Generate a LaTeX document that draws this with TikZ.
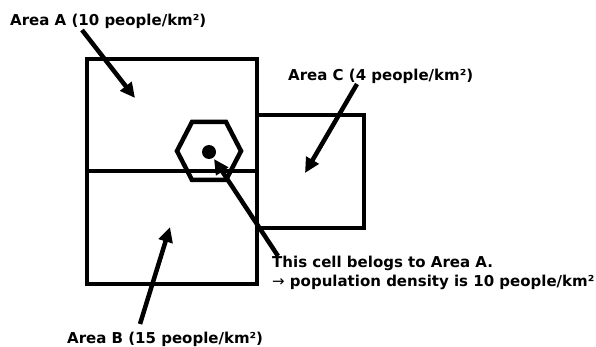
\documentclass[tikz,border=0pt]{standalone}
\usepackage{fontspec}
\setmainfont{DejaVu Sans}
\usepackage{tikz}
\usetikzlibrary{arrows.meta}

\begin{document}
\begin{tikzpicture}[x=1pt,y=-1pt,
  areaLabel/.style={anchor=base west,inner sep=0pt,font=\fontsize{15}{18}\selectfont\bfseries},
  borderLine/.style={line width=4.5pt},
  bigArrow/.style={line width=4.5pt,-{Triangle[length=15pt,width=14pt]}}]
\useasboundingbox (0,0) rectangle (596,347);
% regions
\draw[borderLine] (87,59) rectangle (257,284);
\draw[borderLine] (87,171)--(257,171);
\draw[borderLine] (257,115) rectangle (364,228);
% cell
\draw[borderLine,line join=miter] (177,151)--(192,122)--(226,122)--(241,151)--(226,180)--(192,180)--cycle;
\fill (209,152) circle (7);
% labels
\node[areaLabel] (areaA) at (10,26) {Area A (10 people/km²)};
\node[areaLabel] (areaC) at (288,81) {Area C (4 people/km²)};
\node[areaLabel] (areaB) at (67,343) {Area B (15 people/km²)};
\node[areaLabel] (cellNote1) at (272,267) {This cell belogs to Area A.};
\node[areaLabel] (cellNote2) at (272,286) {{\mdseries →} population density is 10 people/km²};
% arrow ends
\coordinate (tailA) at (82,30);
\coordinate (tipA) at (135,98);
\coordinate (tailC) at (357,84);
\coordinate (tipC) at (305,173);
\coordinate (tailCell) at (278,256);
\coordinate (tipCell) at (214,159);
\coordinate (tailB) at (140,324);
\coordinate (tipB) at (170,227);
\draw[bigArrow] (tailA)--(tipA);
\draw[bigArrow] (tailC)--(tipC);
\draw[bigArrow] (tailCell)--(tipCell);
\draw[bigArrow] (tailB)--(tipB);
\end{tikzpicture}
\end{document}
